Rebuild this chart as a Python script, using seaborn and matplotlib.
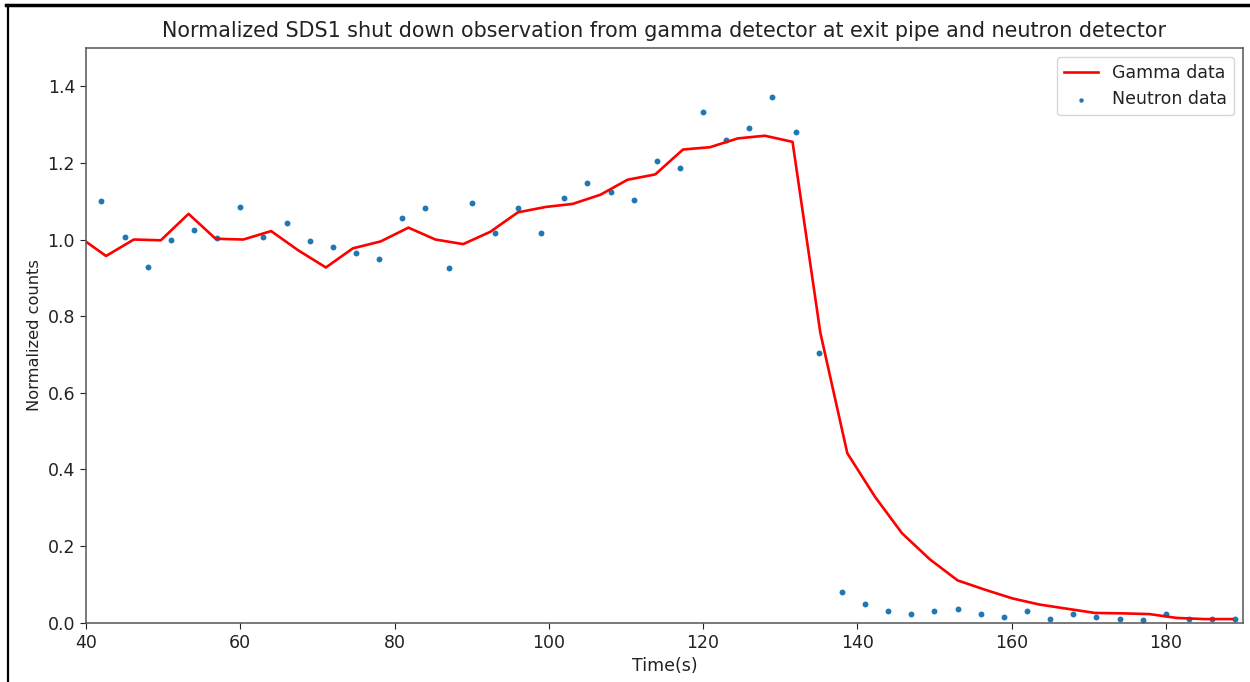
import numpy as np
import pandas as pd
import matplotlib
matplotlib.use("Agg")
import matplotlib.pyplot as plt
from matplotlib.lines import Line2D
import seaborn as sns

# --- DATA ---
gamma_time = [38.9, 42.6, 46.2, 49.7, 53.3, 56.8, 60.4, 64.0, 67.5, 71.1, 74.6,
              78.2, 81.8, 85.3, 88.9, 92.4, 96.0, 99.6, 103.1, 106.7, 110.2,
              113.8, 117.4, 120.9, 124.5, 128.0, 131.6, 135.2, 138.7, 142.3,
              145.8, 149.4, 153.0, 156.5, 160.1, 163.6, 167.2, 170.8, 174.3,
              177.9, 181.4, 185.0, 188.6]
gamma_counts = [1.01, 0.957, 1.0, 0.998, 1.067, 1.002, 1.0, 1.022, 0.972, 0.927,
                0.977, 0.995, 1.031, 1.0, 0.988, 1.02, 1.071, 1.085, 1.093, 1.117,
                1.156, 1.17, 1.235, 1.241, 1.264, 1.271, 1.255, 0.757, 0.442,
                0.328, 0.233, 0.165, 0.11, 0.086, 0.063, 0.047, 0.036, 0.025,
                0.024, 0.022, 0.012, 0.009, 0.009]

neutron_time = [42, 45, 48, 51, 54, 57, 60, 63, 66, 69, 72, 75, 78, 81, 84, 87,
                90, 93, 96, 99, 102, 105, 108, 111, 114, 117, 120, 123, 126, 129,
                132, 135, 138, 141, 144, 147, 150, 153, 156, 159, 162, 165, 168,
                171, 174, 177, 180, 183, 186, 189]
neutron_counts = [1.10, 1.007, 0.929, 1.0, 1.026, 1.005, 1.085, 1.007, 1.043,
                  0.997, 0.981, 0.965, 0.949, 1.055, 1.082, 0.926, 1.095, 1.017,
                  1.082, 1.017, 1.108, 1.147, 1.124, 1.104, 1.205, 1.186, 1.332,
                  1.26, 1.29, 1.371, 1.28, 0.703, 0.079, 0.049, 0.029, 0.023,
                  0.029, 0.036, 0.021, 0.014, 0.029, 0.010, 0.021, 0.014, 0.010,
                  0.006, 0.021, 0.010, 0.010, 0.010]

df_gamma = pd.DataFrame({"Time": gamma_time, "Counts": gamma_counts})
df_neutron = pd.DataFrame({"Time": neutron_time, "Counts": neutron_counts})

plt.rcParams["font.family"] = ["DejaVu Sans"]
plt.rcParams["font.size"] = 12.5
plt.rcParams["text.color"] = "#222222"
plt.rcParams["axes.labelcolor"] = "#222222"
plt.rcParams["xtick.color"] = "#222222"
plt.rcParams["ytick.color"] = "#222222"
plt.rcParams["xtick.major.size"] = 4.4
plt.rcParams["ytick.major.size"] = 4.4

fig = plt.figure(figsize=(12.5, 6.82), dpi=100)
ax = fig.add_axes([0.0688, 0.0872, 0.9256, 0.8424])

sns.lineplot(data=df_gamma, x="Time", y="Counts", color="red", linewidth=1.9,
             label="Gamma data", ax=ax, sort=False)
sns.scatterplot(data=df_neutron, x="Time", y="Counts", color="#1f77b4", s=18,
                linewidth=0, label="Neutron data", ax=ax)

ax.set_xlim(40, 190)
ax.set_ylim(0, 1.5)
ax.set_yticks([0.0, 0.2, 0.4, 0.6, 0.8, 1.0, 1.2, 1.4])
ax.set_xlabel("Time(s)")
ax.set_ylabel("Normalized counts", fontsize=11.7)
ax.set_title("Normalized SDS1 shut down observation from gamma detector at exit pipe and neutron detector",
             fontsize=14.85, pad=8)
for sp in ax.spines.values():
    sp.set_color("#555555")
    sp.set_linewidth(1.1)
ax.legend(loc="upper right", fontsize=12.5, scatterpoints=1, markerscale=0.75)

# screenshot frame around the notebook output
fig.add_artist(Line2D([0.005, 1.0], [0.993, 0.993], color="black", linewidth=2.5,
                      transform=fig.transFigure))
fig.add_artist(Line2D([0.0065, 0.0065], [0.0, 0.993], color="black", linewidth=1.6,
                      transform=fig.transFigure))

fig.savefig("out.png", dpi=100)
